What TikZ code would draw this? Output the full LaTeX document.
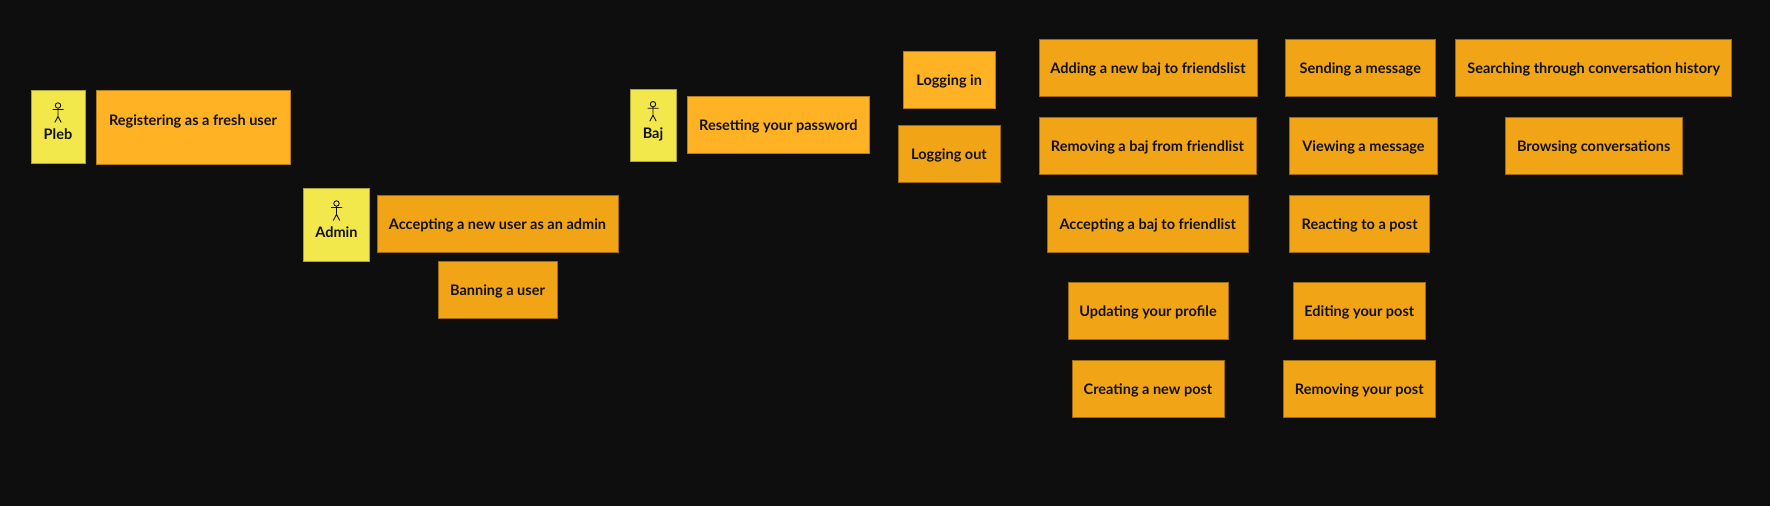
\documentclass[tikz,border=0pt]{standalone}
\usepackage{fontspec}
\setmainfont{Lato}
\definecolor{bgdark}{HTML}{0E0E0E}
\definecolor{actorfill}{HTML}{F3E84B}
\definecolor{casefill}{HTML}{F1A415}
\definecolor{lightfill}{HTML}{FFB224}
\definecolor{inkdark}{HTML}{111111}
\tikzset{
    usecase/.style={draw=casefill!65!black,line width=.5pt,fill=casefill,text=inkdark,inner sep=0pt,
        font=\fontsize{14.5}{16}\selectfont\bfseries,text height=14pt,text depth=3pt,minimum height=57pt},
    firstcase/.style={usecase,fill=lightfill,draw=lightfill!70!black},
    actorbox/.style={usecase,fill=actorfill,draw=actorfill!70!black,text height=29pt},
    actor/.pic={
        \draw[inkdark,line width=.9pt] (0,0) circle (2.7pt)
            (0,2.7) -- (0,12) (-5.5,4) -- (5.5,4)
            (-3.2,17) -- (0,11) -- (3.2,17);
    }
}
\begin{document}
\begin{tikzpicture}[x=1pt,y=-1pt]
                \fill[bgdark] (0,0) rectangle (1770,506);
                \useasboundingbox (0,0) rectangle (1770,506);
                \node[actorbox,minimum width=53.5pt,minimum height=72.5pt] (pleb) at (58,126.5) {Pleb};
                \node[actorbox,minimum width=66pt,minimum height=72.5pt] (admin) at (336.5,224.5) {Admin};
                \node[actorbox,minimum width=45.5pt,minimum height=72.5pt] (baj) at (653,125.2) {Baj};
                \pic at ([yshift=21pt]pleb.center) {actor};
                \pic at ([yshift=21pt]admin.center) {actor};
                \pic at ([yshift=21pt]baj.center) {actor};
                \node[firstcase,minimum width=193.5pt,minimum height=73.5pt,text depth=18pt] (register) at (193,127) {Registering as a fresh user};
                \node[usecase,minimum width=241.5pt] (acceptuser) at (497.5,224) {Accepting a new user as an admin};
                \node[usecase,minimum width=119.5pt] (ban) at (497.5,289.5) {Banning a user};
                \node[firstcase,minimum width=182.5pt] (reset) at (778.4,125) {Resetting your password};
                \node[firstcase,minimum width=92.5pt] (login) at (949.2,80) {Logging in};
                \node[usecase,minimum width=102pt] (logout) at (949,154) {Logging out};
                \node[usecase,minimum width=217.5pt] (addbaj) at (1148,67.5) {Adding a new baj to friendslist};
                \node[usecase,minimum width=216.5pt] (removebaj) at (1147.5,146) {Removing a baj from friendlist};
                \node[usecase,minimum width=200.5pt] (acceptbaj) at (1147.8,224) {Accepting a baj to friendlist};
                \node[usecase,minimum width=160pt] (profile) at (1148,310.5) {Updating your profile};
                \node[usecase,minimum width=151.5pt] (newpost) at (1148,388.7) {Creating a new post};
                \node[usecase,minimum width=149.5pt] (sendmsg) at (1360.3,67.5) {Sending a message};
                \node[usecase,minimum width=148pt] (viewmsg) at (1363.5,146) {Viewing a message};
                \node[usecase,minimum width=140pt] (react) at (1359.7,224) {Reacting to a post};
                \node[usecase,minimum width=132pt] (editpost) at (1359.3,310.5) {Editing your post};
                \node[usecase,minimum width=151.5pt] (removepost) at (1359.3,388.7) {Removing your post};
                \node[usecase,minimum width=276pt] (search) at (1593.7,67.5) {Searching through conversation history};
                \node[usecase,minimum width=177pt] (browse) at (1593.7,146) {Browsing conversations};
            \end{tikzpicture}
\end{document}
